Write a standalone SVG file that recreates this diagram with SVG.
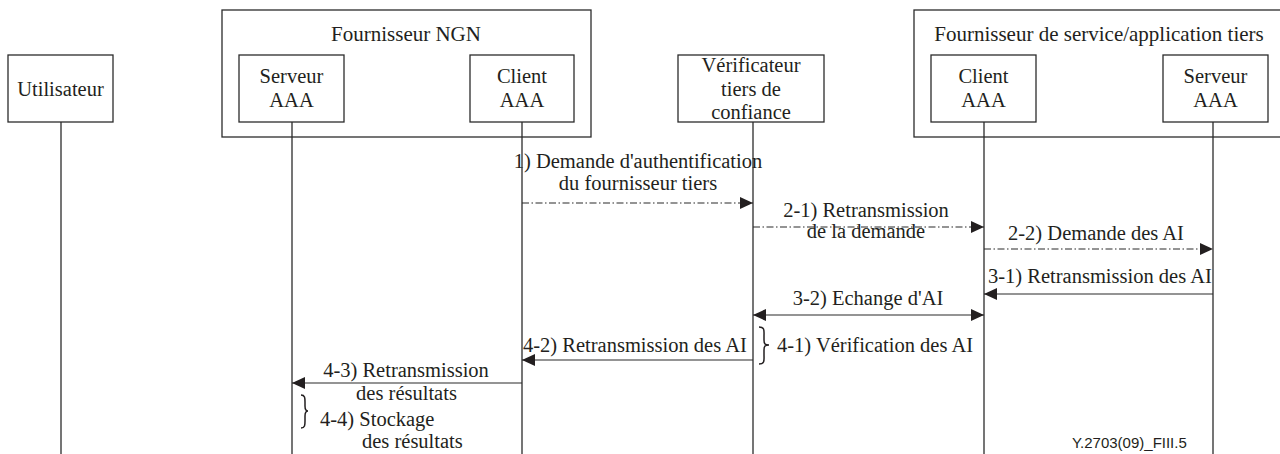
<svg xmlns="http://www.w3.org/2000/svg" width="1280" height="454" viewBox="0 0 1280 454">
  <defs>
    <style>
      .box { fill: #ffffff; stroke: #2b2b2b; stroke-width: 1.3; }
      .grp { fill: none; stroke: #2b2b2b; stroke-width: 1.3; }
      .life { stroke: #2b2b2b; stroke-width: 1.3; fill: none; }
      .msg { stroke: #2b2b2b; stroke-width: 1.2; fill: none; }
      .dd { stroke-dasharray: 7 2.5 1.5 2.5; }
      .t { font-family: "Liberation Serif", "Times New Roman", serif; font-size: 20.5px; fill: #231f20; }
      .big { font-size: 21px; }
      .c { text-anchor: middle; }
      .ref { font-family: "Liberation Sans", Arial, sans-serif; font-size: 15px; fill: #231f20; }
      .brace { fill: none; stroke: #231f20; stroke-width: 1.5; }
    </style>
    <marker id="ah" viewBox="0 0 13 12" refX="13" refY="6" markerWidth="13" markerHeight="12" markerUnits="userSpaceOnUse" orient="auto-start-reverse">
      <path d="M0,0 L13,6 L0,12 Z" fill="#231f20"/>
    </marker>
  </defs>
  <rect width="1280" height="454" fill="#ffffff"/>

  <!-- grouping frames -->
  <g id="ngn-provider">
    <rect class="grp" x="222" y="10" width="369" height="127"/>
    <text class="t c big" x="406" y="41">Fournisseur NGN</text>
  </g>
  <g id="third-party-provider">
    <rect class="grp" x="914" y="10" width="380" height="127"/>
    <text class="t c big" x="1099" y="41">Fournisseur de service/application tiers</text>
  </g>

  <!-- lifelines -->
  <g id="lifelines">
    <line class="life" x1="61" y1="122" x2="61" y2="454"/>
    <line class="life" x1="292" y1="122" x2="292" y2="454"/>
    <line class="life" x1="522" y1="122" x2="522" y2="454"/>
    <line class="life" x1="753" y1="122" x2="753" y2="454"/>
    <line class="life" x1="984" y1="122" x2="984" y2="454"/>
    <line class="life" x1="1213" y1="122" x2="1213" y2="454"/>
  </g>

  <!-- participants -->
  <g id="utilisateur">
    <rect class="box" x="8" y="55" width="105" height="67"/>
    <text class="t c" x="60.5" y="96">Utilisateur</text>
  </g>
  <g id="ngn-serveur-aaa">
    <rect class="box" x="239" y="55" width="105" height="67"/>
    <text class="t c" x="291.5" y="83">Serveur</text>
    <text class="t c" x="291.5" y="107">AAA</text>
  </g>
  <g id="ngn-client-aaa">
    <rect class="box" x="470" y="55" width="104" height="67"/>
    <text class="t c" x="522" y="83">Client</text>
    <text class="t c" x="522" y="107">AAA</text>
  </g>
  <g id="verificateur">
    <rect class="box" x="678" y="55" width="146" height="67"/>
    <text class="t c" x="751" y="72">Vérificateur</text>
    <text class="t c" x="751" y="96">tiers de</text>
    <text class="t c" x="751" y="119">confiance</text>
  </g>
  <g id="tiers-client-aaa">
    <rect class="box" x="931" y="55" width="105" height="67"/>
    <text class="t c" x="983.5" y="83">Client</text>
    <text class="t c" x="983.5" y="107">AAA</text>
  </g>
  <g id="tiers-serveur-aaa">
    <rect class="box" x="1163" y="55" width="105" height="67"/>
    <text class="t c" x="1215.5" y="83">Serveur</text>
    <text class="t c" x="1215.5" y="107">AAA</text>
  </g>

  <!-- messages -->
  <g id="connectors">
    <line class="msg dd" x1="522" y1="203" x2="753" y2="203" marker-end="url(#ah)"/>
    <line class="msg dd" x1="753" y1="227" x2="984" y2="227" marker-end="url(#ah)"/>
    <line class="msg dd" x1="984" y1="249" x2="1213" y2="249" marker-end="url(#ah)"/>
    <line class="msg" x1="1213" y1="294" x2="984" y2="294" marker-end="url(#ah)"/>
    <line class="msg" x1="753" y1="315" x2="984" y2="315" marker-start="url(#ah)" marker-end="url(#ah)"/>
    <line class="msg" x1="753" y1="360" x2="522" y2="360" marker-end="url(#ah)"/>
    <line class="msg" x1="522" y1="383" x2="292" y2="383" marker-end="url(#ah)"/>
  </g>

  <!-- local actions (braces) -->
  <g id="braces">
    <path class="brace" d="M759,327 C765,327 764,331 764,336 L764,340 C764,344 765,345 769,345 C765,345 764,346 764,350 L764,355 C764,360 765,364 759,364"/>
    <path class="brace" d="M301,395 C305,395 305,398 305,402 L305,406 C305,409 306,411 308,411 C306,411 305,413 305,416 L305,421 C305,425 305,428 301,428"/>
  </g>

  <!-- message labels -->
  <g id="labels">
    <text class="t c" x="638" y="168">1) Demande d'authentification</text>
    <text class="t c" x="638" y="190">du fournisseur tiers</text>
    <text class="t c" x="866" y="217">2-1) Retransmission</text>
    <text class="t c" x="866" y="238">de la demande</text>
    <text class="t c" x="1096" y="240">2-2) Demande des AI</text>
    <text class="t" x="988" y="283">3-1) Retransmission des AI</text>
    <text class="t c" x="868" y="305">3-2) Echange d'AI</text>
    <text class="t" x="777" y="352">4-1) Vérification des AI</text>
    <text class="t" x="523" y="352">4-2) Retransmission des AI</text>
    <text class="t c" x="406" y="377">4-3) Retransmission</text>
    <text class="t c" x="406.5" y="400">des résultats</text>
    <text class="t" x="320" y="426">4-4) Stockage</text>
    <text class="t" x="362" y="448">des résultats</text>
  </g>

  <text class="ref" x="1072" y="448">Y.2703(09)_FIII.5</text>
</svg>
